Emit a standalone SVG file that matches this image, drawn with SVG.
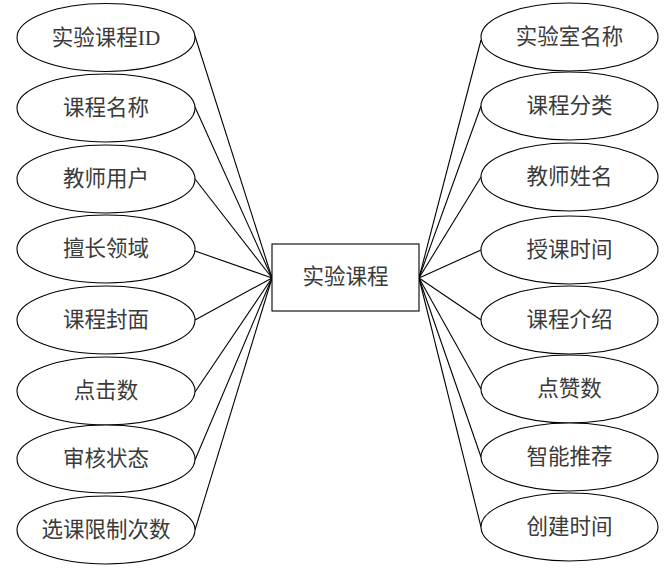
<svg xmlns="http://www.w3.org/2000/svg" width="667" height="571" viewBox="0 0 667 571">
<style>
.n ellipse,.n rect{fill:#fff;stroke:#000;stroke-width:1.1}
.n text{font-family:"Liberation Serif","Noto Sans CJK SC",serif;font-size:21.5px;fill:#3a3a3a;text-anchor:middle;dominant-baseline:central}
#edges line{stroke:#000;stroke-width:1.1}
</style>
<rect width="667" height="571" fill="#fff"/>
<g id="edges">
<line x1="195" y1="36" x2="272" y2="278"/>
<line x1="195" y1="107" x2="272" y2="278"/>
<line x1="195" y1="179" x2="272" y2="278"/>
<line x1="195" y1="251" x2="272" y2="278"/>
<line x1="195" y1="320" x2="272" y2="278"/>
<line x1="195" y1="392" x2="272" y2="278"/>
<line x1="195" y1="460" x2="272" y2="278"/>
<line x1="195" y1="530" x2="272" y2="278"/>
<line x1="419" y1="278" x2="481" y2="40"/>
<line x1="419" y1="278" x2="481" y2="106"/>
<line x1="419" y1="278" x2="481" y2="177"/>
<line x1="419" y1="278" x2="481" y2="250"/>
<line x1="419" y1="278" x2="481" y2="320"/>
<line x1="419" y1="278" x2="481" y2="389"/>
<line x1="419" y1="278" x2="481" y2="457"/>
<line x1="419" y1="278" x2="481" y2="527"/>
</g>
<g id="center" class="n"><rect x="272" y="244" width="147" height="67"/><text x="345.5" y="277">实验课程</text></g>
<g id="l1" class="n"><ellipse cx="106" cy="37.5" rx="89" ry="34"/><text x="106" y="37.5">实验课程ID</text></g>
<g id="l2" class="n"><ellipse cx="106" cy="108" rx="89" ry="34"/><text x="106" y="108">课程名称</text></g>
<g id="l3" class="n"><ellipse cx="106" cy="179" rx="89" ry="34"/><text x="106" y="179">教师用户</text></g>
<g id="l4" class="n"><ellipse cx="106" cy="249" rx="89" ry="34"/><text x="106" y="249">擅长领域</text></g>
<g id="l5" class="n"><ellipse cx="106" cy="320" rx="89" ry="34"/><text x="106" y="320">课程封面</text></g>
<g id="l6" class="n"><ellipse cx="106" cy="391" rx="89" ry="34"/><text x="106" y="391">点击数</text></g>
<g id="l7" class="n"><ellipse cx="106" cy="459" rx="89" ry="34"/><text x="106" y="459">审核状态</text></g>
<g id="l8" class="n"><ellipse cx="106" cy="530" rx="89" ry="34"/><text x="106" y="530">选课限制次数</text></g>
<g id="r1" class="n"><ellipse cx="569.5" cy="37" rx="88.5" ry="34"/><text x="569.5" y="37">实验室名称</text></g>
<g id="r2" class="n"><ellipse cx="569.5" cy="106" rx="88.5" ry="34"/><text x="569.5" y="106">课程分类</text></g>
<g id="r3" class="n"><ellipse cx="569.5" cy="177" rx="88.5" ry="34"/><text x="569.5" y="177">教师姓名</text></g>
<g id="r4" class="n"><ellipse cx="569.5" cy="250" rx="88.5" ry="34"/><text x="569.5" y="250">授课时间</text></g>
<g id="r5" class="n"><ellipse cx="569.5" cy="320" rx="88.5" ry="34"/><text x="569.5" y="320">课程介绍</text></g>
<g id="r6" class="n"><ellipse cx="569.5" cy="389" rx="88.5" ry="34"/><text x="569.5" y="389">点赞数</text></g>
<g id="r7" class="n"><ellipse cx="569.5" cy="457" rx="88.5" ry="34"/><text x="569.5" y="457">智能推荐</text></g>
<g id="r8" class="n"><ellipse cx="569.5" cy="527" rx="88.5" ry="34"/><text x="569.5" y="527">创建时间</text></g>
</svg>
